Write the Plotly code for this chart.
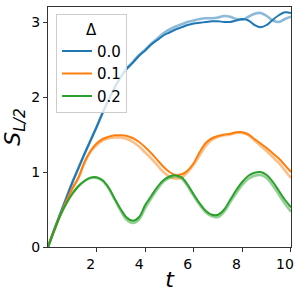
import plotly.graph_objects as go

t = [i * 0.25 for i in range(41)]

blue_dark = [0, 0.22, 0.44, 0.65, 0.86, 1.05, 1.24, 1.42, 1.6, 1.79, 1.97, 2.13, 2.27, 2.38, 2.46, 2.55,
             2.62, 2.70, 2.76, 2.82, 2.86, 2.90, 2.93, 2.96, 2.98, 2.99, 3.0, 3.01, 3.01, 3.0, 3.0,
             3.02, 3.04, 3.02, 2.96, 2.93, 2.96, 3.03, 3.09, 3.13, 3.12]
blue_light = [0, 0.22, 0.44, 0.65, 0.86, 1.05, 1.24, 1.42, 1.6, 1.79, 1.97, 2.13, 2.27, 2.38, 2.47, 2.56,
              2.63, 2.71, 2.78, 2.85, 2.90, 2.94, 2.97, 3.0, 3.02, 3.04, 3.05, 3.05, 3.06, 3.08, 3.07,
              3.04, 3.03, 3.07, 3.11, 3.12, 3.08, 3.02, 3.0, 3.04, 3.07]
orange_dark = [0, 0.22, 0.42, 0.61, 0.78, 0.92, 1.13, 1.28, 1.38, 1.44, 1.47, 1.49, 1.49, 1.48, 1.45, 1.4,
               1.33, 1.25, 1.16, 1.07, 1.0, 0.96, 0.97, 1.02, 1.12, 1.27, 1.39, 1.45, 1.48, 1.5, 1.51,
               1.53, 1.53, 1.5, 1.44, 1.38, 1.32, 1.25, 1.18, 1.09, 1.0]
orange_light = [0, 0.22, 0.42, 0.61, 0.78, 0.92, 1.12, 1.27, 1.36, 1.42, 1.45, 1.46, 1.46, 1.44, 1.4, 1.34,
                1.26, 1.18, 1.09, 1.0, 0.94, 0.91, 0.93, 1.0, 1.1, 1.23, 1.35, 1.43, 1.47, 1.49, 1.5,
                1.52, 1.52, 1.49, 1.42, 1.35, 1.28, 1.2, 1.12, 1.02, 0.92]
green_dark = [0, 0.22, 0.42, 0.58, 0.71, 0.81, 0.88, 0.925, 0.93, 0.89, 0.79, 0.64, 0.5, 0.39, 0.35, 0.4,
              0.56, 0.68, 0.8, 0.89, 0.94, 0.955, 0.93, 0.83, 0.7, 0.58, 0.48, 0.43, 0.43, 0.5, 0.63,
              0.76, 0.87, 0.95, 0.99, 1.0, 0.96, 0.87, 0.75, 0.63, 0.53]
green_light = [0, 0.22, 0.42, 0.58, 0.71, 0.81, 0.88, 0.92, 0.92, 0.88, 0.78, 0.63, 0.48, 0.36, 0.32, 0.37,
               0.52, 0.65, 0.77, 0.87, 0.92, 0.94, 0.91, 0.81, 0.68, 0.56, 0.46, 0.41, 0.4, 0.47, 0.6,
               0.72, 0.83, 0.91, 0.95, 0.96, 0.92, 0.82, 0.7, 0.58, 0.47]

labels = ["0.0", "0.1", "0.2"]
colors = ["#1f77b4", "#ff7f0e", "#2ca02c"]
darks = [blue_dark, orange_dark, green_dark]
lights = [blue_light, orange_light, green_light]

fig = go.Figure()
for lab, c, d, l in zip(labels, colors, darks, lights):
    fig.add_trace(go.Scatter(x=t, y=l, mode="lines", line=dict(color=c, width=2.6, shape="spline"),
                             opacity=0.5, showlegend=False, hoverinfo="skip"))
for lab, c, d, l in zip(labels, colors, darks, lights):
    fig.add_trace(go.Scatter(x=t, y=d, mode="lines", line=dict(color=c, width=2, shape="spline"),
                             name=lab))

axis_common = dict(showline=True, linecolor="#333", linewidth=1, mirror=True, ticks="outside",
                   ticklen=4, tickcolor="#333", showgrid=False, zeroline=False, automargin=False,
                   ticklabeloverflow="allow", tickfont=dict(size=14, color="black"))
fig.update_layout(
    width=299, height=299,
    margin=dict(l=48, r=8, t=7, b=52),
    paper_bgcolor="white", plot_bgcolor="white",
    font=dict(family="DejaVu Sans", color="black"),
    xaxis=dict(range=[0, 10.001], tickvals=[2, 4, 6, 8, 10], ticklabelshift=-6,
               title=dict(text="<i>t</i>", font=dict(size=22), standoff=0), **axis_common),
    yaxis=dict(range=[0, 3.2], tickvals=[0, 1, 2, 3],
               title=dict(text="<i>S</i><sub><i>L/2</i></sub>", font=dict(size=22), standoff=5), **axis_common),
    legend=dict(x=0.033, y=0.97, xanchor="left", yanchor="top",
                bordercolor="#cccccc", borderwidth=1, bgcolor="rgba(255,255,255,0.8)",
                font=dict(size=15), title=dict(text="Δ", side="top center", font=dict(size=15)),
                tracegroupgap=0),
)
fig.write_html("out.html", config={"displayModeBar": False},
               post_script="document.body.style.margin='0';document.body.style.padding='0';")
